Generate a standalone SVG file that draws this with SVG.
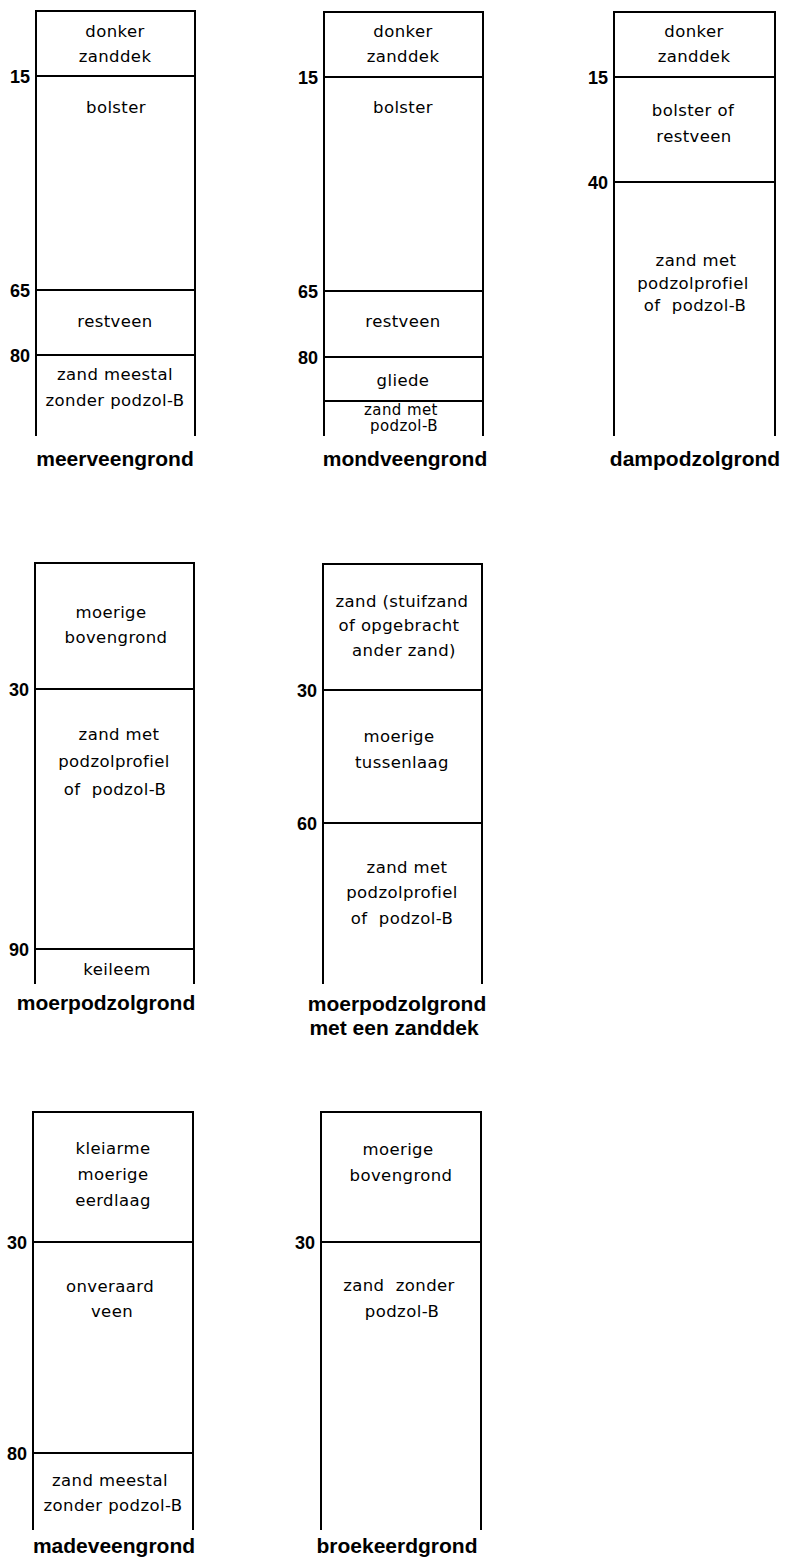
<svg xmlns="http://www.w3.org/2000/svg" width="787" height="1560" viewBox="0 0 787 1560">
<style>
.frame{fill:none;stroke:#000;stroke-width:2;stroke-linecap:square}
.ln{stroke:#000;stroke-width:2}
.t{font-family:"DejaVu Sans","Liberation Sans",sans-serif;font-size:16.5px;fill:#000;text-anchor:middle;letter-spacing:0.4px}
.s{font-size:15px}
.d{font-family:"Liberation Sans","DejaVu Sans",sans-serif;font-size:18px;font-weight:bold;fill:#000;text-anchor:end}
.lab{font-family:"Liberation Sans","DejaVu Sans",sans-serif;font-size:21px;font-weight:bold;fill:#000;text-anchor:middle}
</style>
<rect x="0" y="0" width="787" height="1560" fill="#fff"/>

<g id="meerveengrond">
<path class="frame" d="M36,435 V11 H195 V435"/>
<line class="ln" x1="36" y1="76" x2="195" y2="76"/>
<line class="ln" x1="36" y1="290" x2="195" y2="290"/>
<line class="ln" x1="36" y1="355" x2="195" y2="355"/>
<text class="d" x="30" y="83">15</text>
<text class="d" x="30" y="297">65</text>
<text class="d" x="30" y="362">80</text>
<text class="t" x="115" y="37">donker</text>
<text class="t" x="115" y="62">zanddek</text>
<text class="t" x="116" y="113">bolster</text>
<text class="t" x="115" y="327">restveen</text>
<text class="t" x="115" y="380">zand meestal</text>
<text class="t" x="115" y="406">zonder podzol-B</text>
<text class="lab" x="115" y="466">meerveengrond</text>
</g>

<g id="mondveengrond">
<path class="frame" d="M324,435 V12 H483 V435"/>
<line class="ln" x1="324" y1="77" x2="483" y2="77"/>
<line class="ln" x1="324" y1="291" x2="483" y2="291"/>
<line class="ln" x1="324" y1="357" x2="483" y2="357"/>
<line class="ln" x1="324" y1="401" x2="483" y2="401"/>
<text class="d" x="318" y="84">15</text>
<text class="d" x="318" y="298">65</text>
<text class="d" x="318" y="364">80</text>
<text class="t" x="403" y="37">donker</text>
<text class="t" x="403" y="62">zanddek</text>
<text class="t" x="403" y="113">bolster</text>
<text class="t" x="403" y="327">restveen</text>
<text class="t" x="403" y="386">gliede</text>
<text class="t s" x="401" y="415">zand met</text>
<text class="t s" x="404" y="431">podzol-B</text>
<text class="lab" x="405" y="466">mondveengrond</text>
</g>

<g id="dampodzolgrond">
<path class="frame" d="M614,435 V12 H775 V435"/>
<line class="ln" x1="614" y1="77" x2="775" y2="77"/>
<line class="ln" x1="614" y1="182" x2="775" y2="182"/>
<text class="d" x="608" y="84">15</text>
<text class="d" x="608" y="189">40</text>
<text class="t" x="694" y="37">donker</text>
<text class="t" x="694" y="62">zanddek</text>
<text class="t" x="693" y="116">bolster of</text>
<text class="t" x="694" y="142">restveen</text>
<text class="t" x="696" y="266">zand met</text>
<text class="t" x="693" y="289">podzolprofiel</text>
<text class="t" x="695" y="311" xml:space="preserve">of  podzol-B</text>
<text class="lab" x="695" y="466">dampodzolgrond</text>
</g>

<g id="moerpodzolgrond">
<path class="frame" d="M35,983 V563 H194 V983"/>
<line class="ln" x1="35" y1="689" x2="194" y2="689"/>
<line class="ln" x1="35" y1="949" x2="194" y2="949"/>
<text class="d" x="29" y="696">30</text>
<text class="d" x="29" y="956">90</text>
<text class="t" x="111" y="618">moerige</text>
<text class="t" x="116" y="643">bovengrond</text>
<text class="t" x="119" y="740">zand met</text>
<text class="t" x="114" y="767">podzolprofiel</text>
<text class="t" x="115" y="795" xml:space="preserve">of  podzol-B</text>
<text class="t" x="117" y="975">keileem</text>
<text class="lab" x="106" y="1010">moerpodzolgrond</text>
</g>

<g id="moerpodzolgrond-zanddek">
<path class="frame" d="M323,983 V564 H482 V983"/>
<line class="ln" x1="323" y1="690" x2="482" y2="690"/>
<line class="ln" x1="323" y1="823" x2="482" y2="823"/>
<text class="d" x="317" y="697">30</text>
<text class="d" x="317" y="830">60</text>
<text class="t" x="402" y="607">zand (stuifzand</text>
<text class="t" x="399" y="631">of opgebracht</text>
<text class="t" x="404" y="656">ander zand)</text>
<text class="t" x="399" y="742">moerige</text>
<text class="t" x="402" y="768">tussenlaag</text>
<text class="t" x="407" y="873">zand met</text>
<text class="t" x="402" y="898">podzolprofiel</text>
<text class="t" x="402" y="924" xml:space="preserve">of  podzol-B</text>
<text class="lab" x="397" y="1011">moerpodzolgrond</text>
<text class="lab" x="394" y="1035">met een zanddek</text>
</g>

<g id="madeveengrond">
<path class="frame" d="M33,1529 V1112 H193 V1529"/>
<line class="ln" x1="33" y1="1242" x2="193" y2="1242"/>
<line class="ln" x1="33" y1="1453" x2="193" y2="1453"/>
<text class="d" x="27" y="1249">30</text>
<text class="d" x="27" y="1460">80</text>
<text class="t" x="113" y="1154">kleiarme</text>
<text class="t" x="113" y="1180">moerige</text>
<text class="t" x="113" y="1206">eerdlaag</text>
<text class="t" x="110" y="1292">onveraard</text>
<text class="t" x="112" y="1317">veen</text>
<text class="t" x="110" y="1486">zand meestal</text>
<text class="t" x="113" y="1511">zonder podzol-B</text>
<text class="lab" x="114" y="1553">madeveengrond</text>
</g>

<g id="broekeerdgrond">
<path class="frame" d="M321,1529 V1112 H481 V1529"/>
<line class="ln" x1="321" y1="1242" x2="481" y2="1242"/>
<text class="d" x="315" y="1249">30</text>
<text class="t" x="398" y="1155">moerige</text>
<text class="t" x="401" y="1181">bovengrond</text>
<text class="t" x="399" y="1291" xml:space="preserve">zand  zonder</text>
<text class="t" x="402" y="1317">podzol-B</text>
<text class="lab" x="397" y="1553">broekeerdgrond</text>
</g>
</svg>
